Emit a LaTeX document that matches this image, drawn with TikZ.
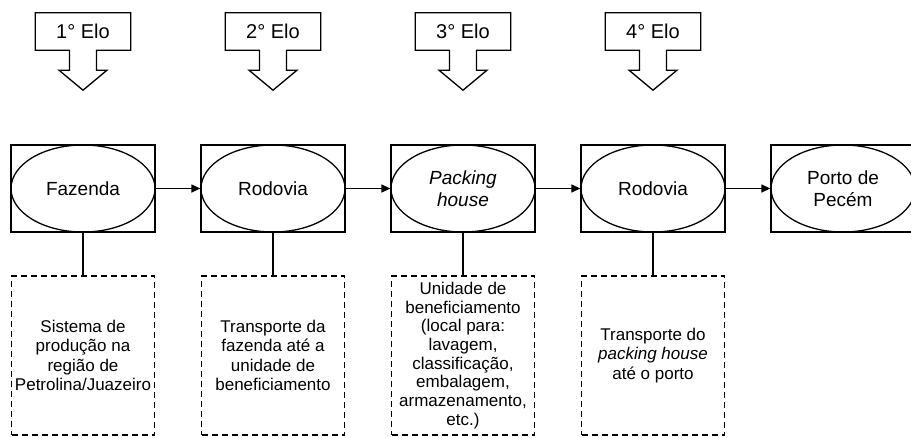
\documentclass[tikz,border=0pt]{standalone}
\usepackage{fontspec}
\setmainfont{Liberation Sans}
\usepackage{tikz}
\usetikzlibrary{arrows.meta, positioning, shapes.geometric}

\begin{document}
\begin{tikzpicture}[x=1pt, y=-1pt,
    elo/.style={minimum width=95pt, minimum height=37pt, inner sep=0pt,
        font=\fontsize{20}{24}\selectfont},
    stage/.style={draw, line width=1.3pt, minimum width=144pt,
        minimum height=87pt, inner sep=0pt},
    place/.style={ellipse, draw, line width=1.3pt, minimum width=144pt,
        minimum height=87pt, inner sep=0pt, align=center,
        font=\fontsize{19}{22}\selectfont},
    note/.style={draw, line width=1.4pt, dash pattern=on 6pt off 4pt,
        minimum width=143pt, minimum height=159pt, inner sep=0pt,
        align=center, font=\fontsize{17}{19.5}\selectfont},
    link/.style={line width=1.3pt},
    arr/.style={-{Triangle[length=9pt, width=8pt]}, line width=1.3pt},
]
    \useasboundingbox (0,0) rectangle (911,437);

    % Elos
    \foreach \i in {1,...,4} {
        \node[elo] (c\i) at ({83+190*(\i-1)}, 31.5) {\i° Elo};
        \draw[link] (c\i.south west) -- (c\i.north west) -- (c\i.north east)
            -- (c\i.south east) -- ([xshift=13.5pt]c\i.south) -- ++(0,20)
            -- ++(10.5,0) -- ([yshift=-40pt]c\i.south) -- ++(-24,-20)
            -- ++(10.5,0) -- ([xshift=-13.5pt]c\i.south) -- cycle;
    }

    % Stages
    \foreach \i/\name in {1/Fazenda, 2/Rodovia,
            3/{\textit{Packing}\\\textit{house}}, 4/Rodovia,
            5/{Porto de\\Pecém}} {
        \node[stage] (s\i) at ({83+190*(\i-1)}, 188.5) {};
        \node[place] (e\i) at (s\i) {\name};
    }
    \foreach \i/\j in {1/2, 2/3, 3/4, 4/5}
        \draw[arr] (s\i.east) -- (s\j.west);

    % Notes
    \node[note] (n1) at (83, 355.5)
        {Sistema de\\produção na\\região de\\Petrolina/Juazeiro};
    \node[note] (n2) at (273, 355.5)
        {Transporte da\\fazenda até a\\unidade de\\beneficiamento};
    \node[note, font=\fontsize{17}{18.7}\selectfont] (n3) at (463, 355.5)
        {Unidade de\\beneficiamento\\(local para:\\lavagem,\\classificação,\\
        embalagem,\\armazenamento,\\etc.)};
    \node[note] (n4) at (653, 355.5)
        {Transporte do\\\textit{packing house}\\até o porto};
    \foreach \i in {1,...,4}
        \draw[link] (e\i.south) -- (n\i.north);
\end{tikzpicture}
\end{document}
